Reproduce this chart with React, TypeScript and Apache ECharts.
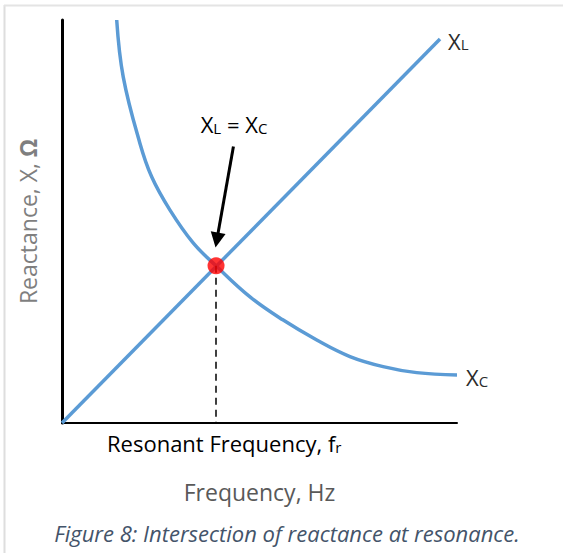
import React, { useEffect, useRef } from "react";
import * as echarts from "echarts";

const FONT = "'Open Sans', 'Noto Sans', sans-serif";
const BLUE = "#5B9BD5";
const INK = "#2b2b2b";

// Inductive reactance: a straight line rising from the origin
const xlFreq = [0, 95.7];
const xlReact = [0, 95.3];

// Capacitive reactance: falls away as frequency rises
const xcFreq = [13.85, 15.5, 19.7, 22.7, 27.3, 33.2, 39.0, 47.6, 55.9, 64.5, 72.9, 81.3, 89.8, 100];
const xcReact = [100, 85.9, 69.5, 61.1, 52.9, 44.7, 39.0, 31.3, 25.6, 20.6, 16.5, 14.0, 12.5, 11.9];

// Resonance: the point where both reactances are equal
const resonance = [39.0, 39.0];
// Start and tip of the pointer arrow aimed at the resonance point
const arrowStart = [43.4, 68.6];
const arrowTip = [39.2, 45.4];

const xName = "Frequency, Hz";
const yName = "Reactance, X, ";
const caption = "Figure 8: Intersection of reactance at resonance.";

const subRich = {
  x: { fontFamily: FONT, fontSize: 22, color: INK, verticalAlign: "bottom", lineHeight: 26 },
  s: { fontFamily: FONT, fontSize: 15, color: INK, verticalAlign: "bottom", lineHeight: 24 },
};

export default function App() {
  const ref = useRef<HTMLDivElement>(null);

  useEffect(() => {
    if (!ref.current) return;
    const chart = echarts.init(ref.current, undefined, { renderer: "svg" });

    const option = {
      animation: false,
      backgroundColor: "#ffffff",
      grid: { left: 62, top: 20, width: 395, height: 403, containLabel: false },
      xAxis: {
        type: "value",
        min: 0,
        max: 100,
        name: xName,
        nameLocation: "middle",
        nameGap: 57,
        nameTextStyle: { fontFamily: FONT, fontSize: 23, color: "#595959" },
        axisLine: { show: true, onZero: false, lineStyle: { color: "#000", width: 2 } },
        axisTick: { show: false },
        axisLabel: { show: false },
        splitLine: { show: false },
      },
      yAxis: {
        type: "value",
        min: 0,
        max: 100,
        name: `{a|${yName}}{b|Ω}`,
        nameLocation: "middle",
        nameGap: 23,
        nameTextStyle: {
          rich: {
            a: { fontFamily: FONT, fontSize: 23, color: "#7f7f7f" },
            b: { fontFamily: FONT, fontSize: 23, fontWeight: "bold", color: "#7f7f7f" },
          },
        },
        axisLine: { show: true, onZero: false, lineStyle: { color: "#000", width: 3 } },
        axisTick: { show: false },
        axisLabel: { show: false },
        splitLine: { show: false },
      },
      series: [
        {
          name: "XL",
          type: "line",
          data: xlFreq.map((f, i) => [f, xlReact[i]]),
          symbol: "none",
          lineStyle: { color: BLUE, width: 3.5 },
          z: 2,
          endLabel: {
            show: true,
            distance: 8,
            formatter: "{x|X}{s|L}",
            rich: subRich,
          },
        },
        {
          name: "XC",
          type: "line",
          data: xcFreq.map((f, i) => [f, xcReact[i]]),
          smooth: 0.4,
          symbol: "none",
          lineStyle: { color: BLUE, width: 3.5 },
          z: 2,
          endLabel: {
            show: true,
            distance: 9,
            formatter: "{x|X}{s|C}",
            rich: subRich,
          },
        },
        {
          name: "Resonance",
          type: "scatter",
          data: [resonance],
          symbol: "circle",
          symbolSize: 17,
          itemStyle: { color: "#ff0000" },
          z: 5,
          markLine: {
            silent: true,
            animation: false,
            label: { show: false },
            z: 3,
            data: [
              [
                {
                  coord: resonance,
                  symbol: "none",
                  lineStyle: { color: "#000", width: 1.5, type: [7, 5] },
                },
                { coord: [resonance[0], 0], symbol: "none" },
              ],
              [
                {
                  coord: arrowStart,
                  symbol: "none",
                  lineStyle: { color: "#000", width: 3, type: "solid" },
                },
                { coord: arrowTip, symbol: "triangle", symbolSize: [15, 15] },
              ],
            ],
          },
        },
      ],
      graphic: [
        // page frame
        {
          type: "line",
          shape: { x1: 4.5, y1: 5, x2: 4.5, y2: 553 },
          style: { stroke: "#dedede", lineWidth: 2 },
        },
        {
          type: "line",
          shape: { x1: 4, y1: 5.5, x2: 563, y2: 5.5 },
          style: { stroke: "#e4e4e4", lineWidth: 2 },
        },
        {
          type: "text",
          x: 234,
          y: 122,
          style: {
            text: "{x|X}{s|L}{x| = X}{s|C}",
            align: "center",
            verticalAlign: "middle",
            rich: subRich,
          },
        },
        {
          type: "text",
          x: 107,
          y: 441,
          style: {
            text: "{x|Resonant Frequency, f}{s|r}",
            align: "left",
            verticalAlign: "middle",
            rich: subRich,
          },
        },
        {
          type: "text",
          x: 287,
          y: 533,
          style: {
            text: caption,
            align: "center",
            verticalAlign: "middle",
            fontFamily: FONT,
            fontSize: 22,
            fontStyle: "italic",
            fill: "#44546A",
          },
        },
      ],
    };

    chart.setOption(option as any);
    return () => chart.dispose();
  }, []);

  return (
    <div
      ref={ref}
      style={{ position: "absolute", left: 0, top: 0, width: 563, height: 553, background: "#fff" }}
    />
  );
}
